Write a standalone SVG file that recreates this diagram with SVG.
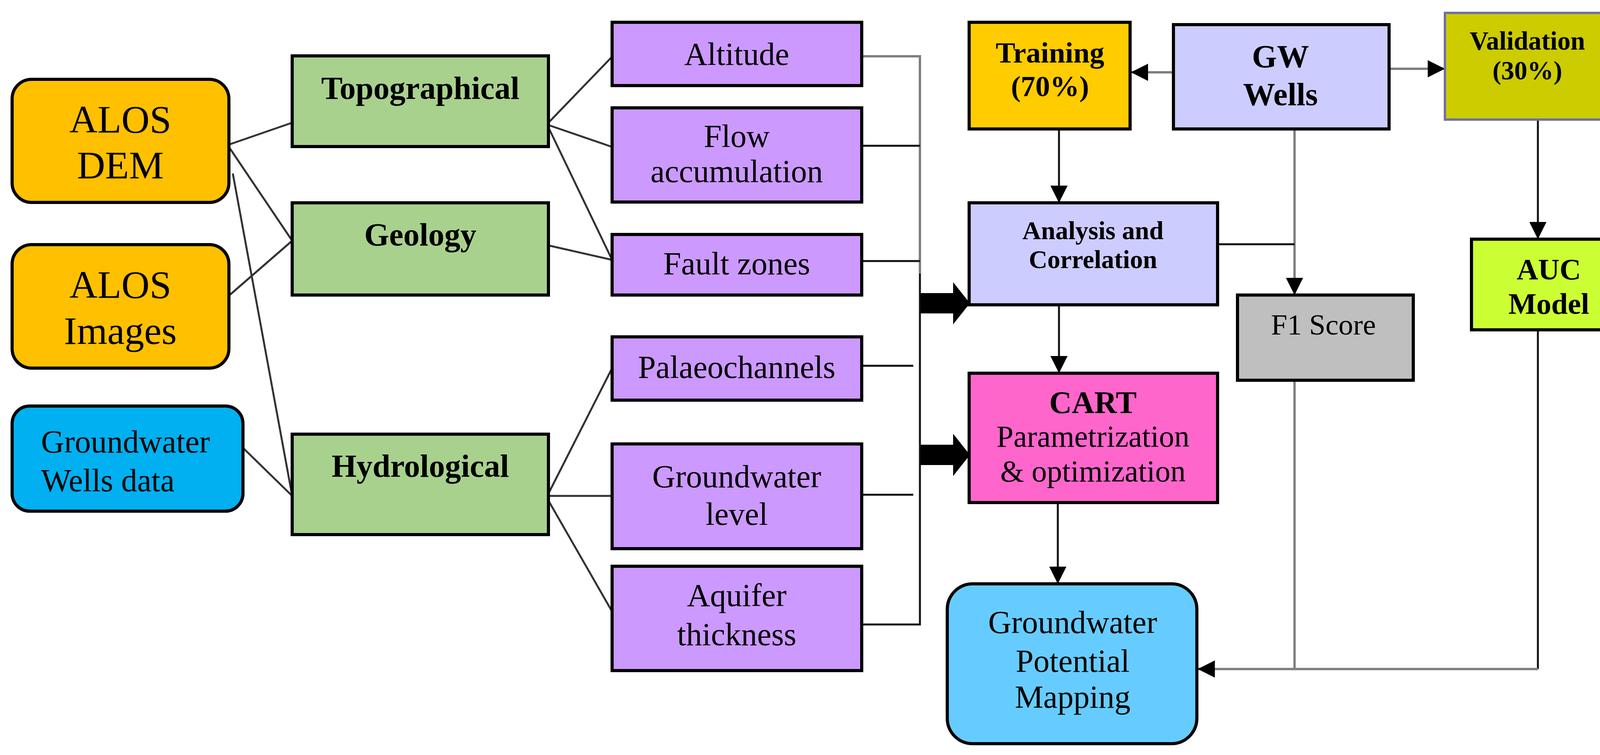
<svg xmlns="http://www.w3.org/2000/svg" width="4183" height="1932" viewBox="0 0 4183 1932">
<style>
.b{stroke:#000;stroke-width:8}
.t{font-family:"Liberation Serif","Times New Roman",serif;text-anchor:middle;fill:#000}
.bd{font-weight:bold}
.c{fill:none;stroke:#333;stroke-width:5}
.g{fill:none;stroke:#7f7f7f;stroke-width:6}
.k{fill:none;stroke:#111;stroke-width:5}
</style>
<defs>
<marker id="ah" markerWidth="12" markerHeight="12" refX="10" refY="6" orient="auto" markerUnits="userSpaceOnUse" viewBox="0 0 12 12"><path d="M0,0 L12,6 L0,12 z" fill="#000"/></marker>
<marker id="a" viewBox="0 0 10 10" refX="10" refY="5" markerWidth="44" markerHeight="44" markerUnits="userSpaceOnUse" orient="auto"><path d="M0,0 L10,5 L0,10 z" fill="#000"/></marker>
</defs>
<rect width="4183" height="1932" fill="#fff"/>
<g id="connectors">
<line class="c" x1="586" y1="370" x2="748" y2="314"/>
<line class="c" x1="586" y1="376" x2="748" y2="616"/>
<line class="c" x1="596" y1="444" x2="748" y2="1269"/>
<line class="c" x1="589" y1="754" x2="748" y2="616"/>
<line class="c" x1="622" y1="1146" x2="748" y2="1269"/>
<line class="c" x1="1404" y1="314" x2="1567" y2="145"/>
<line class="c" x1="1404" y1="320" x2="1567" y2="376"/>
<line class="c" x1="1404" y1="326" x2="1567" y2="665"/>
<line class="c" x1="1404" y1="628" x2="1567" y2="665"/>
<line class="c" x1="1404" y1="1263" x2="1567" y2="942"/>
<line class="c" x1="1404" y1="1269" x2="1567" y2="1269"/>
<line class="c" x1="1404" y1="1281" x2="1567" y2="1565"/>
<polyline class="g" points="2195,144 2355,144 2355,700"/>
<polyline class="k" points="2355,700 2355,1598 2166,1598"/>
<line class="k" x1="2206" y1="373" x2="2355" y2="373"/>
<line class="k" x1="2206" y1="668" x2="2355" y2="668"/>
<line class="k" x1="2206" y1="936" x2="2338" y2="936"/>
<line class="k" x1="2206" y1="1266" x2="2338" y2="1266"/>
<polygon points="2357,750 2440,750 2440,722 2483,776 2440,830 2440,802 2357,802" fill="#000"/>
<polygon points="2357,1138 2440,1138 2440,1110 2483,1164 2440,1218 2440,1190 2357,1190" fill="#000"/>
<line class="g" x1="3004" y1="185" x2="2895" y2="185" marker-end="url(#a)"/>
<line class="g" x1="3556" y1="176" x2="3699" y2="176" marker-end="url(#a)"/>
<line class="k" x1="2711" y1="330" x2="2711" y2="519" marker-end="url(#a)"/>
<line class="g" x1="3314" y1="318" x2="3314" y2="755" marker-end="url(#a)"/>
<line class="k" x1="3117" y1="625" x2="3314" y2="625"/>
<line class="k" x1="3937" y1="306" x2="3937" y2="612" marker-end="url(#a)"/>
<line class="k" x1="2711" y1="780" x2="2711" y2="955" marker-end="url(#a)"/>
<line class="k" x1="2708" y1="1286" x2="2708" y2="1494" marker-end="url(#a)"/>
<line class="g" x1="3314" y1="973" x2="3314" y2="1712"/>
<polyline class="k" points="3937,844 3937,1712"/>
<line class="g" x1="3937" y1="1712" x2="3066" y2="1712" marker-end="url(#a)"/>
</g>
<g id="alos-dem"><rect class="b" x="31" y="203" width="555" height="315" rx="50" fill="#FFC000"/><text class="t" x="308" y="339" font-size="100">ALOS</text><text class="t" x="308" y="456" font-size="100">DEM</text></g>
<g id="alos-images"><rect class="b" x="31" y="626" width="555" height="316" rx="50" fill="#FFC000"/><text class="t" x="308" y="762" font-size="100">ALOS</text><text class="t" x="308" y="880" font-size="100">Images</text></g>
<g id="gw-wells-data"><rect class="b" x="31" y="1039" width="591" height="269" rx="45" fill="#00B0F0"/><text class="t" x="105" y="1158" font-size="82" text-anchor="start" style="text-anchor:start">Groundwater</text><text class="t" x="105" y="1257" font-size="82" style="text-anchor:start">Wells data</text></g>
<g id="topographical"><rect class="b" x="748" y="143" width="656" height="232" fill="#A9D18E"/><text class="t bd" x="1076" y="253" font-size="82">Topographical</text></g>
<g id="geology"><rect class="b" x="748" y="519" width="656" height="236" fill="#A9D18E"/><text class="t bd" x="1076" y="628" font-size="82">Geology</text></g>
<g id="hydrological"><rect class="b" x="748" y="1111" width="656" height="257" fill="#A9D18E"/><text class="t bd" x="1076" y="1220" font-size="82">Hydrological</text></g>
<g id="altitude"><rect class="b" x="1567" y="57" width="639" height="162" fill="#CC99FF"/><text class="t" x="1886" y="166" font-size="82">Altitude</text></g>
<g id="flow"><rect class="b" x="1567" y="276" width="639" height="241" fill="#CC99FF"/><text class="t" x="1886" y="376" font-size="82">Flow</text><text class="t" x="1886" y="466" font-size="82">accumulation</text></g>
<g id="fault"><rect class="b" x="1567" y="600" width="639" height="155" fill="#CC99FF"/><text class="t" x="1886" y="702" font-size="82">Fault zones</text></g>
<g id="palaeo"><rect class="b" x="1567" y="862" width="639" height="162" fill="#CC99FF"/><text class="t" x="1886" y="967" font-size="82">Palaeochannels</text></g>
<g id="gw-level"><rect class="b" x="1567" y="1136" width="639" height="268" fill="#CC99FF"/><text class="t" x="1886" y="1247" font-size="82">Groundwater</text><text class="t" x="1886" y="1343" font-size="82">level</text></g>
<g id="aquifer"><rect class="b" x="1567" y="1449" width="639" height="267" fill="#CC99FF"/><text class="t" x="1886" y="1551" font-size="82">Aquifer</text><text class="t" x="1886" y="1651" font-size="82">thickness</text></g>
<g id="training"><rect class="b" x="2481" y="57" width="412" height="273" fill="#FFCC00"/><text class="t bd" x="2688" y="160" font-size="75">Training</text><text class="t bd" x="2688" y="246" font-size="75">(70%)</text></g>
<g id="gw-wells"><rect class="b" x="3004" y="63" width="552" height="267" fill="#CCCCFF"/><text class="t bd" x="3278" y="172" font-size="82">GW</text><text class="t bd" x="3278" y="269" font-size="82">Wells</text></g>
<g id="validation"><rect x="3699" y="33" width="457" height="273" fill="#CCCC00" stroke="#7070A0" stroke-width="6"/><text class="t bd" x="3910" y="127" font-size="67">Validation</text><text class="t bd" x="3910" y="203" font-size="67">(30%)</text></g>
<g id="analysis"><rect class="b" x="2481" y="519" width="636" height="261" fill="#CCCCFF"/><text class="t bd" x="2798" y="612" font-size="66">Analysis and</text><text class="t bd" x="2798" y="686" font-size="66">Correlation</text></g>
<g id="f1"><rect class="b" x="3168" y="755" width="450" height="218" fill="#BFBFBF"/><text class="t" x="3388" y="856" font-size="75">F1 Score</text></g>
<g id="auc"><rect class="b" x="3767" y="612" width="389" height="232" fill="#CCFF33"/><text class="t bd" x="3965" y="715" font-size="76">AUC</text><text class="t bd" x="3965" y="803" font-size="76">Model</text></g>
<g id="cart"><rect class="b" x="2481" y="955" width="636" height="331" fill="#FF66CC"/><text class="t bd" x="2798" y="1057" font-size="80">CART</text><text class="t" x="2798" y="1143" font-size="78">Parametrization</text><text class="t" x="2798" y="1232" font-size="78">&amp; optimization</text></g>
<g id="gpm"><rect class="b" x="2425" y="1494" width="639" height="409" rx="65" fill="#66CCFF"/><text class="t" x="2746" y="1620" font-size="82">Groundwater</text><text class="t" x="2746" y="1719" font-size="82">Potential</text><text class="t" x="2746" y="1811" font-size="82">Mapping</text></g>
</svg>
